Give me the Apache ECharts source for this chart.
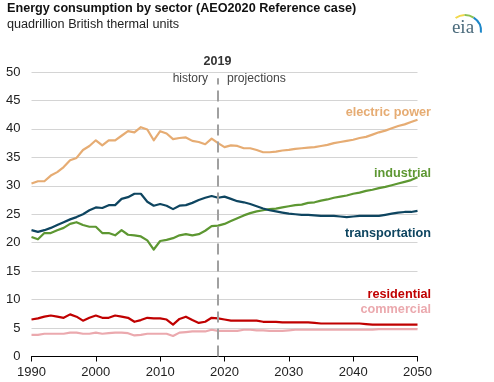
<!DOCTYPE html>
<html><head><meta charset="utf-8">
<style>html,body{margin:0;padding:0;background:#fff}#c{width:494px;height:382px}</style>
<script src="https://cdn.jsdelivr.net/npm/echarts@6/dist/echarts.min.js"></script></head>
<body><div id="c"></div>
<script>
const years = [1990,1991,1992,1993,1994,1995,1996,1997,1998,1999,2000,2001,2002,2003,2004,2005,2006,2007,2008,2009,2010,2011,2012,2013,2014,2015,2016,2017,2018,2019,2020,2021,2022,2023,2024,2025,2026,2027,2028,2029,2030,2031,2032,2033,2034,2035,2036,2037,2038,2039,2040,2041,2042,2043,2044,2045,2046,2047,2048,2049,2050];
const electricPower = [30.4,30.8,30.8,31.8,32.4,33.3,34.5,34.9,36.3,37.0,38.0,37.1,38.0,38.0,38.8,39.6,39.4,40.3,39.9,38.0,39.6,39.2,38.2,38.4,38.5,37.9,37.7,37.3,38.3,37.5,36.8,37.1,37.0,36.6,36.6,36.3,35.9,35.9,36.0,36.2,36.3,36.5,36.6,36.7,36.8,37.0,37.2,37.5,37.7,37.9,38.1,38.4,38.6,39.0,39.4,39.7,40.1,40.5,40.8,41.2,41.6];
const industrial = [21.0,20.6,21.7,21.7,22.2,22.6,23.3,23.6,23.1,22.8,22.8,21.7,21.7,21.3,22.2,21.4,21.3,21.1,20.4,18.8,20.3,20.5,20.8,21.3,21.5,21.3,21.5,22.1,22.9,23.0,23.3,23.8,24.3,24.8,25.2,25.5,25.7,25.9,26.0,26.2,26.4,26.6,26.7,27.0,27.1,27.4,27.6,27.9,28.1,28.3,28.6,28.8,29.1,29.3,29.6,29.8,30.1,30.4,30.7,31.0,31.5];
const transportation = [22.2,21.9,22.2,22.6,23.1,23.6,24.1,24.5,25.0,25.7,26.2,26.1,26.6,26.6,27.7,28.0,28.6,28.6,27.2,26.5,26.8,26.5,25.9,26.5,26.6,27.0,27.5,27.9,28.2,27.9,28.1,27.7,27.3,27.1,26.8,26.4,26.0,25.7,25.5,25.3,25.1,25.0,24.9,24.9,24.8,24.7,24.7,24.7,24.6,24.5,24.6,24.7,24.7,24.7,24.7,24.9,25.1,25.3,25.4,25.4,25.6];
const residential = [6.5,6.7,7.0,7.2,7.0,6.8,7.4,7.0,6.3,6.8,7.2,6.8,6.8,7.2,7.0,6.8,6.1,6.4,6.8,6.7,6.7,6.5,5.6,6.6,7.0,6.4,5.9,6.1,6.8,6.7,6.5,6.3,6.3,6.3,6.3,6.3,6.1,6.1,6.1,6.0,6.0,6.0,6.0,6.0,5.9,5.8,5.8,5.8,5.8,5.8,5.8,5.8,5.7,5.6,5.6,5.6,5.6,5.6,5.6,5.6,5.6];
const commercial = [3.8,3.8,4.0,4.0,4.0,4.0,4.2,4.2,4.0,4.0,4.2,4.0,4.1,4.2,4.2,4.1,3.7,3.8,4.0,4.0,4.0,4.0,3.6,4.2,4.3,4.4,4.4,4.4,4.7,4.5,4.5,4.5,4.5,4.7,4.7,4.6,4.6,4.5,4.5,4.5,4.6,4.7,4.7,4.7,4.7,4.7,4.7,4.7,4.7,4.7,4.7,4.7,4.7,4.7,4.8,4.8,4.8,4.8,4.8,4.8,4.8];
const font = 'Arial, "Liberation Sans", sans-serif';
const colors = {electric:'#e6ac73',industrial:'#5d9732',transport:'#0e4560',residential:'#c00000',commercial:'#eba9ae'};
function line(name,data,color,z){
  return {name,type:'line',data:data.map((v,i)=>[years[i],v]),showSymbol:false,symbol:'none',z:z||3,
    lineStyle:{color,width:2.2,join:'round'},itemStyle:{color}};
}
function lbl(text,right,y,color){
  return {type:'text',x:right,y,z:20,style:{text,fill:color,font:'bold 12.7px '+font,align:'right',verticalAlign:'middle'}};
}
const chart = echarts.init(document.getElementById('c'),null,{renderer:'canvas'});
const series = [
  line('electric power',electricPower,colors.electric),
  line('commercial',commercial,colors.commercial),
  line('residential',residential,colors.residential),
  line('industrial',industrial,colors.industrial),
  line('transportation',transportation,colors.transport,4)
];
series[0].markLine = {silent:true,symbol:'none',animation:false,label:{show:false},
  lineStyle:{color:'#a0a0a0',type:[11,6],width:2},data:[[{coord:[2019,0]},{coord:[2019,48.9]}]]};
chart.setOption({
  animation:false,
  backgroundColor:'#fff',
  grid:{left:31.5,right:76.5,top:72,bottom:25.5,containLabel:false},
  xAxis:{type:'value',min:1990,max:2050,interval:10,
    axisLine:{onZero:false,lineStyle:{color:'#000',width:1}},
    axisTick:{show:true,length:5,lineStyle:{color:'#000'}},
    axisLabel:{color:'#222',fontSize:13,fontFamily:font,margin:9,formatter:v=>String(v)},
    splitLine:{show:false}},
  yAxis:{type:'value',min:0,max:50,interval:5,
    axisLine:{show:false},axisTick:{show:false},
    axisLabel:{color:'#222',fontSize:13,fontFamily:font,margin:11},
    splitLine:{show:true,lineStyle:{color:'#d4d4d4',width:1}}},
  series,
  graphic:[
    {type:'text',x:7,y:9,style:{text:'Energy consumption by sector (AEO2020 Reference case)',fill:'#111',font:'bold 12.65px '+font,verticalAlign:'middle'}},
    {type:'text',x:7,y:24.5,style:{text:'quadrillion British thermal units',fill:'#222',font:'12.65px '+font,verticalAlign:'middle'}},
    {type:'text',x:217.5,y:62,style:{text:'2019',fill:'#333',font:'bold 12.5px '+font,align:'center',verticalAlign:'middle'}},
    {type:'text',x:208,y:79,style:{text:'history',fill:'#444',font:'12px '+font,align:'right',verticalAlign:'middle'}},
    {type:'text',x:227,y:79,style:{text:'projections',fill:'#444',font:'12.2px '+font,verticalAlign:'middle'}},
    lbl('electric power',431,112,colors.electric),
    lbl('industrial',431,173,colors.industrial),
    lbl('transportation',431,233.5,colors.transport),
    lbl('residential',431,294,colors.residential),
    lbl('commercial',431,309,colors.commercial),
    {type:'text',x:463,y:28,z:20,style:{text:'eia',fill:'#4b6b7c',font:'19px "Liberation Serif", serif',align:'center',verticalAlign:'middle'}},
    {type:'arc',z:20,shape:{cx:465,cy:31,r:16,startAngle:-2.2,endAngle:-1.6},style:{stroke:'#f2d84c',fill:null,lineWidth:2}},
    {type:'arc',z:20,shape:{cx:465,cy:31,r:16,startAngle:-1.6,endAngle:-1.0},style:{stroke:'#8cc152',fill:null,lineWidth:2}},
    {type:'arc',z:20,shape:{cx:465,cy:31,r:16,startAngle:-1.0,endAngle:0.1},style:{stroke:'#1d87c9',fill:null,lineWidth:2}}
  ]
});
</script></body></html>
